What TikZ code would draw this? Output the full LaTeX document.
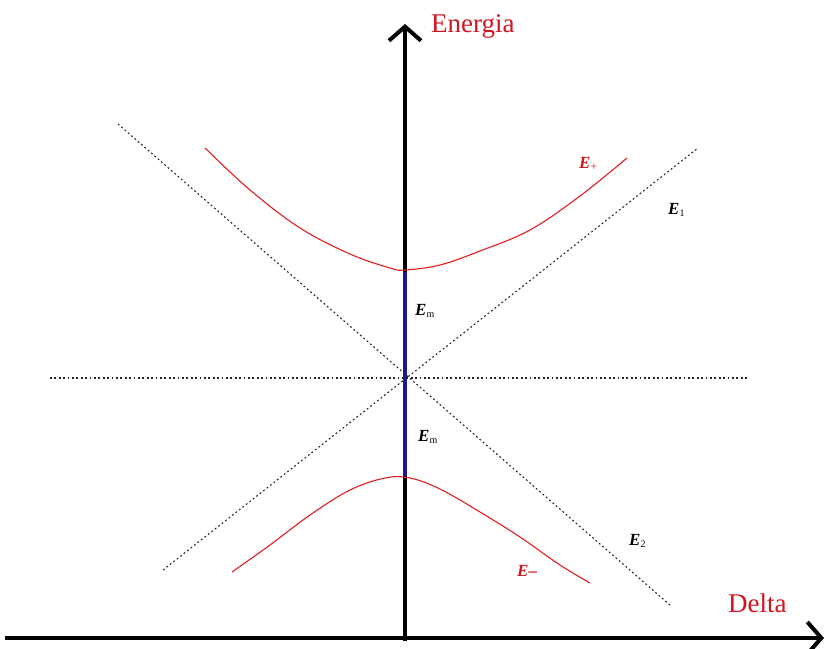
\documentclass[tikz,border=0pt]{standalone}
\usepackage{fontspec}
\setmainfont{Liberation Serif}
\usetikzlibrary{arrows.meta}
\definecolor{lblred}{RGB}{210,20,30}
\definecolor{curvered}{RGB}{225,30,30}
\definecolor{gapblue}{RGB}{25,25,150}
\tikzset{
  axis/.style={line width=4.5pt, -{Straight Barb[length=14pt,width=32pt,line width=4pt]}},
  asym/.style={line width=1.1pt, dash pattern=on 1.8pt off 2.6pt, black!85},
  level/.style={line width=1.1pt, curvered, smooth, tension=0.6},
  lbl/.style={text=lblred, font=\fontsize{27}{29}\selectfont, inner sep=0pt},
  elbl/.style={font=\fontsize{17}{19}\selectfont\bfseries\itshape, inner sep=0pt},
  relbl/.style={elbl, text=lblred}
}
\newcommand{\sbs}[1]{\textsubscript{\normalfont\fontsize{10}{11}\selectfont #1}}
\begin{document}
\begin{tikzpicture}[x=1pt,y=-1pt]
\useasboundingbox (0,0) rectangle (826,648);
% coordinates
\coordinate (vbot) at (405,641);
\coordinate (vtop) at (405,24);
\coordinate (hleft) at (5,638);
\coordinate (hright) at (824,638);
\coordinate (o) at (405,378);
\coordinate (hl) at (50,378);
\coordinate (hr) at (748,378);
\coordinate (e1a) at (163,570);
\coordinate (e1b) at (698,148);
\coordinate (e2a) at (118,124);
\coordinate (e2b) at (670,605);
\coordinate (gtop) at (405,272);
\coordinate (gbot) at (405,476);
% axes
\draw[axis] (vbot) -- (vtop);
\draw[axis] (hleft) -- (hright);
% gap
\draw[gapblue, line width=4.5pt] (gtop) -- (gbot);
% dotted lines
\draw[asym] (hl) -- (hr);
\draw[asym] (e1a) -- (e1b);
\draw[asym] (e2a) -- (e2b);
% curves
\draw[level] plot coordinates {(205,148) (250,190) (300,228) (350,254) (390,268) (405,270) (440,265) (480,251) (530,230) (580,196) (627,158)};
\draw[level] plot coordinates {(232,572) (270,545) (310,515) (350,490) (385,478) (410,478) (440,489) (480,512) (520,537) (560,565) (590,583)};
% labels
\node[lbl, anchor=west] (en) at (431,26) {Energia};
\node[lbl, anchor=west] (de) at (728,603) {Delta};
\node[relbl, anchor=west] (ep) at (579,164) {E\textsubscript{\normalfont\fontsize{12}{13}\selectfont +}};
\node[relbl, anchor=west] (em) at (517,571) {E–};
\node[elbl, anchor=west] (e1) at (668,210) {E\sbs{1}};
\node[elbl, anchor=west] (e2) at (629,541) {E\sbs{2}};
\node[elbl, anchor=west] (m1) at (415,311) {E\sbs{m}};
\node[elbl, anchor=west] (m2) at (418,437) {E\sbs{m}};
\end{tikzpicture}
\end{document}
